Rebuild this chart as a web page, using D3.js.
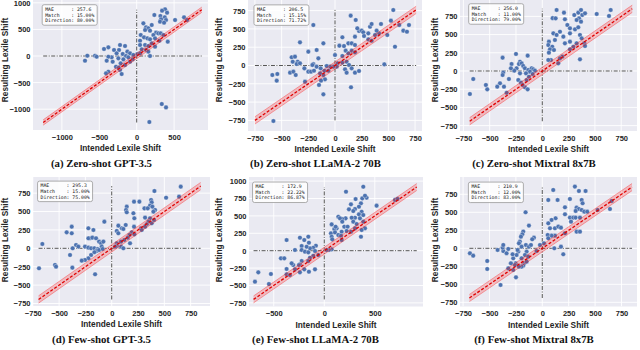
<!DOCTYPE html>
<html><head><meta charset="utf-8">
<script src="https://cdn.jsdelivr.net/npm/d3@7"></script>
<style>body{margin:0;background:#fff}</style>
</head><body>
<svg id="c" width="640" height="350" xmlns="http://www.w3.org/2000/svg"></svg>
<script>
// ---------- data ----------
const captions = ["(a) Zero-shot GPT-3.5","(b) Zero-shot LLaMA-2 70B","(c) Zero-shot Mixtral 8x7B",
                  "(d) Few-shot GPT-3.5","(e) Few-shot LLaMA-2 70B","(f) Few-shot Mixtral 8x7B"];
const mae = ["257.6","206.5","256.0","295.3","172.9","210.9"];
const match = ["15.00%","15.15%","11.00%","15.00%","22.22%","12.00%"];
const direction = ["80.00%","71.72%","79.00%","75.00%","86.87%","83.00%"];

const xTicks = [[-1000,-500,0,500],[-750,-500,-250,0,250,500,750],[-750,-500,-250,0,250,500,750],
                [-750,-500,-250,0,250,500,750],[-500,0,500],[-750,-500,-250,0,250,500,750]];
const yTicks = [[-1000,-500,0,500,1000],[-750,-500,-250,0,250,500,750],[-750,-500,-250,0,250,500,750],
                [-750,-500,-250,0,250,500,750],[-750,-500,-250,0,250,500,750,1000],[-750,-500,-250,0,250,500,750]];
// extent of reference lines (min / max of data)
const lineLo = [-1250,-750,-690,-695,-700,-690];
const lineHi = [870,760,855,845,915,850];
const tolerance = 50;

const aX = [379,339,406,236,317,375,326,392,312,366,513,633,673,89,125,156,112,201,178,259,290,321,223,54,98,143,45,178,245,357,415,303,45,112,156,201,245,67,125,156,178,9,45,-223,-156,-379,-437,-303,-236,-125,-268,-187,-89,-143,-45,-335,-379,-401,-321,-245,-178,-112,-214,-156,-277,-379,-410,-223,-241,-201,-660,-557,-535,-691,-54,-89,335,392,169];
const aY = [878,853,815,771,752,727,690,677,646,627,677,727,677,614,539,520,489,583,476,439,426,426,395,395,351,332,288,314,332,395,270,288,207,207,188,238,176,125,113,82,0,38,50,207,188,163,132,113,113,82,50,38,50,0,19,-25,-13,-88,-107,-44,-63,-25,-138,-169,-201,-295,-326,-263,-219,-339,6,6,-13,-88,-63,-107,-903,-966,-1241];

const bX = [546,147,-203,194,328,343,431,524,640,674,693,602,562,490,412,390,375,312,225,250,209,265,272,312,343,187,69,125,156,187,84,41,100,156,187,125,69,69,109,131,94,156,187,225,109,150,0,25,16,-16,-47,-78,-100,-62,-109,-140,-94,-131,-150,-109,-203,-156,-172,-109,-250,-328,-406,-375,-396,-350,-359,-328,-287,-250,-225,-197,-421,-390,-368,-281,-587,-540,-546,-577,462,-212,-172,-134];
const bY = [758,681,553,622,530,567,567,613,476,462,553,553,257,417,439,476,417,439,471,476,508,453,403,357,339,394,385,303,303,280,266,271,203,203,180,166,130,39,52,7,-52,-39,-98,-75,-98,-298,143,30,-16,-16,-16,-7,-71,-71,-130,-107,-189,-207,-266,-394,20,98,212,303,189,316,112,121,52,52,20,30,-39,-84,-84,-71,-98,-84,-130,-221,-130,-116,-207,-758,16,7,-16,-39];

const cX = [136,206,98,127,215,304,342,368,380,406,349,326,368,517,634,650,238,263,311,342,168,105,136,63,57,95,73,111,63,120,200,263,215,263,295,326,358,374,399,406,263,358,190,168,82,57,152,-250,-377,-139,-292,-212,-222,-196,-181,-165,-244,-266,-298,-133,-101,-86,-117,-70,-155,-371,-377,-317,-228,-203,-149,-127,-92,-165,-187,-139,-402,-428,-364,-339,-536,-523,-656,-688,-212];
const cY = [838,801,726,723,710,769,801,838,769,792,723,701,678,783,756,838,632,586,572,600,540,517,495,403,357,334,298,288,252,426,472,517,380,403,334,380,495,449,380,343,298,160,197,174,151,151,105,234,183,211,96,128,96,105,69,37,37,5,37,14,37,23,-9,5,-32,-23,-55,-110,-124,-160,-124,-78,-41,-224,-192,-252,-169,-215,-215,-298,-192,-252,-110,-316,-32];

const dX = [656,406,517,640,212,263,374,380,364,311,342,387,412,396,143,136,143,206,215,317,364,349,380,402,333,212,279,285,317,133,95,63,111,48,190,215,168,152,120,89,174,63,48,89,111,48,32,-70,-380,-380,-428,-222,-174,-206,-222,-184,-149,-120,-101,-79,-339,-317,-371,-254,-222,-196,-165,-133,-95,-143,-165,-196,-222,-254,-285,-396,-374,-539,-529,-691,-659,-158,-120,-86];
const dY = [838,779,688,702,634,634,657,625,580,543,543,566,521,498,566,521,489,476,408,417,408,362,340,385,326,294,272,249,294,317,272,308,263,236,217,190,181,145,113,91,68,204,68,23,0,32,23,362,294,204,217,272,249,136,136,145,136,91,68,91,45,23,0,23,9,0,0,-9,23,-36,-54,-91,-136,-159,-168,-91,-263,-226,-249,-272,59,-353,-23,-9];

const eX = [386,215,376,419,403,310,264,363,343,304,244,287,370,343,386,353,304,271,211,178,139,155,198,231,178,287,320,386,403,370,363,304,264,221,172,122,99,112,73,66,73,79,106,139,165,172,73,46,23,518,700,725,-373,-241,-198,-158,-152,-83,-109,-142,-175,-224,-224,-290,-191,-158,-92,-109,-59,-142,-158,-224,-241,-251,-307,-323,-429,-396,-373,-373,-340,-290,-198,-152,-92,-241,-653,-528,-548,-686];
const eY = [919,848,752,761,790,742,666,680,632,599,594,570,560,522,512,465,474,474,465,455,488,465,345,345,417,417,383,417,321,297,201,321,273,283,273,321,311,345,378,249,201,163,263,225,216,153,19,10,10,647,730,745,153,187,153,201,115,72,43,34,57,67,10,10,-14,-24,-5,-72,-62,-101,-148,-148,-196,-206,-206,-182,-110,-110,-263,-340,-350,-268,-268,-302,-268,-311,-311,-335,-479,-445];

const fX = [104,309,347,410,262,145,57,373,382,215,325,347,373,398,426,316,215,262,294,316,357,126,88,57,73,120,152,177,215,272,325,357,120,88,51,57,177,114,199,524,641,657,16,-22,-54,-158,-126,-180,-189,-202,-212,-79,-95,-155,-126,-107,-148,-164,-133,-196,-227,-234,-243,-221,-196,-275,-253,-259,-297,-322,-369,-376,-369,-338,-423,-322,-275,-170,-180,-148,-249,-395,-521,-521,-685,-654,-196,-221,-281];
const fY = [810,857,796,796,685,671,671,671,625,569,565,546,532,509,509,519,472,426,426,426,426,417,394,347,278,278,301,287,208,370,231,231,176,176,185,139,23,0,-83,532,546,657,69,46,-37,500,315,232,194,162,93,148,125,46,23,46,-46,-93,-116,-139,-46,-23,-93,69,23,-139,-208,-232,-208,-9,-37,9,46,-69,-23,-278,-301,-208,-241,-185,-403,-509,-287,-176,-69,-102,-255,-255,-83];

const seriesX = [aX,bX,cX,dX,eX,fX];
const seriesY = [aY,bY,cY,dY,eY,fY];

// ---------- layout ----------
const layout = [
  {r:[33,0,208,130],   xd:[-1386,953], yd:[-1391,1053], ylx:5,   yly:60},
  {r:[248,0,422,131],  xd:[-815,815],  yd:[-895,895],   ylx:219, yly:60},
  {r:[460,0,637,131],  xd:[-782,900],  yd:[-824,975],   ylx:435, yly:60},
  {r:[33,177,210,306], xd:[-748,934],  yd:[-784,969],   ylx:5,   yly:240},
  {r:[249,177,423,306.5], xd:[-745,977], yd:[-802,1059], ylx:219, yly:240},
  {r:[460,177,637,306.5], xd:[-779,897], yd:[-808,990],  ylx:435, yly:240}
];
const capY = [167, 343];

const svg = d3.select('#c');
const SANS = "'Liberation Sans', Arial, sans-serif";
const defs = svg.append('defs');
const fmt = d3.format('d');

layout.forEach((L,i)=>{
  const [x0,y0,x1,y1] = L.r;
  const x = d3.scaleLinear().domain(L.xd).range([x0,x1]);
  const y = d3.scaleLinear().domain(L.yd).range([y1,y0]);
  defs.append('clipPath').attr('id','cl'+i).append('rect')
    .attr('x',x0).attr('y',y0).attr('width',x1-x0).attr('height',y1-y0);
  const g = svg.append('g');
  g.append('rect').attr('x',x0).attr('y',y0).attr('width',x1-x0).attr('height',y1-y0).attr('fill','#EAEAF2');
  const pg = g.append('g').attr('clip-path','url(#cl'+i+')');
  // grid
  pg.selectAll('.gx').data(xTicks[i]).join('line')
    .attr('x1',d=>x(d)).attr('x2',d=>x(d)).attr('y1',y0).attr('y2',y1)
    .attr('stroke','#fff').attr('stroke-width',0.9);
  pg.selectAll('.gy').data(yTicks[i]).join('line')
    .attr('x1',x0).attr('x2',x1).attr('y1',d=>y(d)).attr('y2',d=>y(d))
    .attr('stroke','#fff').attr('stroke-width',0.9);
  const lo = lineLo[i], hi = lineHi[i];
  // zero lines
  pg.append('line').attr('x1',x(lo)).attr('x2',x(hi)).attr('y1',y(0)).attr('y2',y(0))
    .attr('stroke','#555').attr('stroke-width',1).attr('stroke-dasharray','4,1.5,1,1.5');
  pg.append('line').attr('x1',x(0)).attr('x2',x(0)).attr('y1',y(lo)).attr('y2',y(hi))
    .attr('stroke','#555').attr('stroke-width',1).attr('stroke-dasharray','4,1.5,1,1.5');
  // points
  const pts = seriesX[i].map((v,k)=>[v, seriesY[i][k]]);
  pg.selectAll('circle').data(pts).join('circle')
    .attr('cx',d=>x(d[0])).attr('cy',d=>y(d[1])).attr('r',2.3)
    .attr('fill','#4C72B0').attr('stroke','#fff').attr('stroke-width',0.35);
  // tolerance band
  const band = [[lo,lo-tolerance],[hi,hi-tolerance],[hi,hi+tolerance],[lo,lo+tolerance]];
  pg.append('polygon').attr('points',band.map(p=>x(p[0])+','+y(p[1])).join(' '))
    .attr('fill','red').attr('fill-opacity',0.2);
  [-tolerance,tolerance].forEach(o=>{
    pg.append('line').attr('x1',x(lo)).attr('y1',y(lo+o)).attr('x2',x(hi)).attr('y2',y(hi+o))
      .attr('stroke','red').attr('stroke-opacity',0.55).attr('stroke-width',0.6);
  });
  pg.append('line').attr('x1',x(lo)).attr('y1',y(lo)).attr('x2',x(hi)).attr('y2',y(hi))
    .attr('stroke','#e00000').attr('stroke-width',1.3).attr('stroke-dasharray','3,1.8');
  // info box
  const bx = x(lo)-1, by = y(hi)-5;
  g.append('rect').attr('x',bx).attr('y',by).attr('width',55).attr('height',20.5).attr('rx',2)
    .attr('fill','#fff').attr('fill-opacity',0.85).attr('stroke','#999').attr('stroke-width',0.8);
  const lines = ['MAE'.padEnd(9)+': '+mae[i], 'Match'.padEnd(9)+': '+match[i], 'Direction: '+direction[i]];
  g.append('text').attr('font-family',"'DejaVu Sans Mono', monospace").attr('font-size',4.8)
    .attr('fill','#111').attr('xml:space','preserve').style('white-space','pre')
    .selectAll('tspan').data(lines).join('tspan')
    .attr('x',bx+3).attr('y',(d,k)=>by+6.2+k*5.6).text(d=>d);
  // axes
  const ax = d3.axisBottom(x).tickValues(xTicks[i]).tickSize(0).tickPadding(4.5).tickFormat(fmt);
  const ay = d3.axisLeft(y).tickValues(yTicks[i]).tickSize(0).tickPadding(2.5).tickFormat(fmt);
  const gx = g.append('g').attr('transform',`translate(0,${y1})`).call(ax);
  const gy = g.append('g').attr('transform',`translate(${x0},0)`).call(ay);
  [gx,gy].forEach(a=>{
    a.select('.domain').remove();
    a.selectAll('text').attr('font-family',SANS).attr('font-weight','bold').attr('font-size',7.5).attr('fill','#262626');
  });
  g.append('text').attr('x',(x0+x1)/2).attr('y',y1+21).attr('text-anchor','middle')
    .attr('font-family',SANS).attr('font-weight','bold').attr('font-size',8.3).attr('fill','#262626')
    .text('Intended Lexile Shift');
  g.append('text').attr('transform',`translate(${L.ylx},${L.yly}) rotate(-90)`).attr('text-anchor','middle')
    .attr('dominant-baseline','central')
    .attr('font-family',SANS).attr('font-weight','bold').attr('font-size',8.3).attr('fill','#262626')
    .text('Resulting Lexile Shift');
  svg.append('text').attr('x',[101.5,315.5,534][i%3]).attr('y',capY[Math.floor(i/3)]).attr('text-anchor','middle')
    .attr('font-family',"'Liberation Serif', 'DejaVu Serif', serif").attr('font-weight','bold').attr('font-size',10.8)
    .attr('fill','#111').text(captions[i]);
});
</script>
</body></html>
